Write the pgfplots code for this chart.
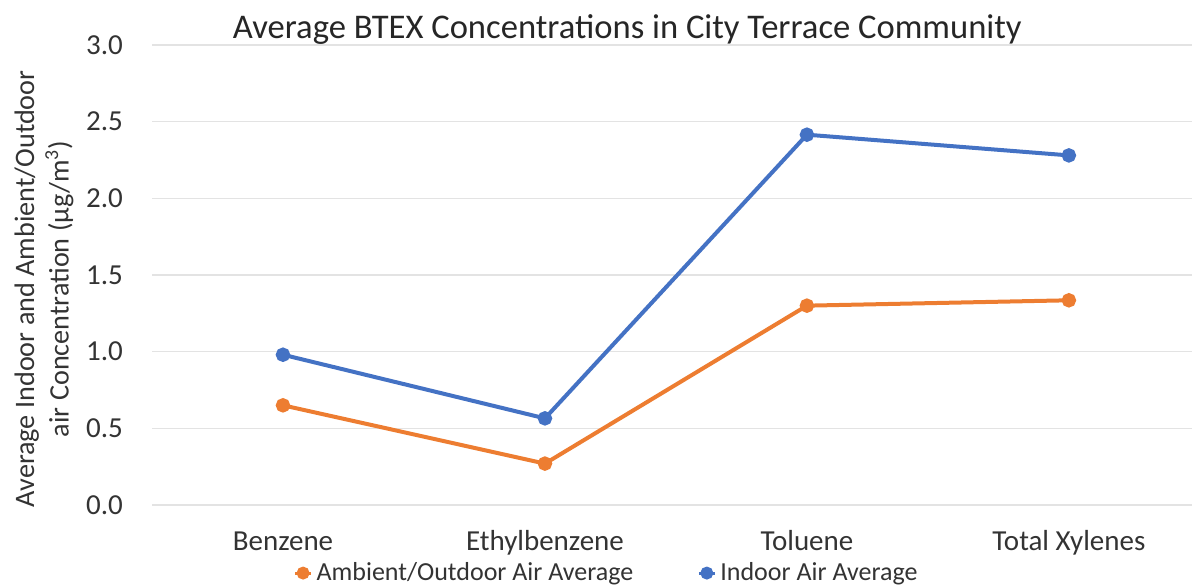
\documentclass[border=0pt]{standalone}
\usepackage{fontspec}
\setmainfont{Carlito}
\usepackage{pgfplots}
\pgfplotsset{compat=1.18}
\definecolor{xlblue}{HTML}{4472C4}
\definecolor{xlorange}{HTML}{ED7D31}
\definecolor{xlgrid}{HTML}{E3E3E3}
\begin{document}
\begin{tikzpicture}
\useasboundingbox (-76pt,-41pt) rectangle (520pt,252.5pt);
\begin{axis}[
  at={(0,0)}, anchor=south west,
  scale only axis, width=520pt, height=230pt,
  xmin=-0.5, xmax=3.47, ymin=0, ymax=3,
  xtick={0,1,2,3},
  xticklabels={Benzene, Ethylbenzene, Toluene, Total Xylenes},
  ytick={0,0.5,...,3},
  yticklabel={\pgfmathprintnumber[fixed,fixed zerofill,precision=1]{\tick}},
  /pgf/number format/assume math mode=true,
  ymajorgrids, grid style={xlgrid, line width=0.8pt},
  axis line style={draw=none},
  major tick length=0pt,
  tick label style={font=\fontsize{14.5}{17}\selectfont, text=black!80},
  xticklabel style={anchor=base, yshift=-23pt},
  yticklabel style={anchor=east, xshift=-11pt},
  every axis y label/.style={at={(rel axis cs:0,0.47)}, xshift=-54pt, rotate=90, anchor=center, align=center, font=\fontsize{14.1}{17.2}\selectfont, text=black!80},
  ylabel={Average Indoor and Ambient/Outdoor\\air Concentration (µg/m\textsuperscript{3})},
  title={Average BTEX Concentrations in City Terrace Community},
  every axis title/.style={at={(rel axis cs:0.457,1)}, anchor=base, yshift=3pt, font=\fontsize{17.3}{20}\selectfont, text=black!85},
  legend columns=2,
  legend style={at={(rel axis cs:0.438,-0.148)}, anchor=center, draw=none, fill=none,
    font=\fontsize{13}{15}\selectfont, text=black!80,
    /tikz/every even column/.append style={column sep=30pt},
    inner sep=0pt},
  legend image code/.code={\draw[#1, line width=1.5pt] (0pt,0pt) -- (8pt,0pt); \fill[#1] (4pt,0pt) circle (2.2pt);},
]
\addplot[xlorange, line width=2pt, mark=*, mark size=2.6pt, mark options={solid}] coordinates {
  (0,0.65) (1,0.27) (2,1.30) (3,1.335)};
\addlegendentry{Ambient/Outdoor Air Average}
\addplot[xlblue, line width=2pt, mark=*, mark size=2.6pt, mark options={solid}] coordinates {
  (0,0.98) (1,0.565) (2,2.415) (3,2.28)};
\addlegendentry{Indoor Air Average}
\end{axis}
\end{tikzpicture}
\end{document}
